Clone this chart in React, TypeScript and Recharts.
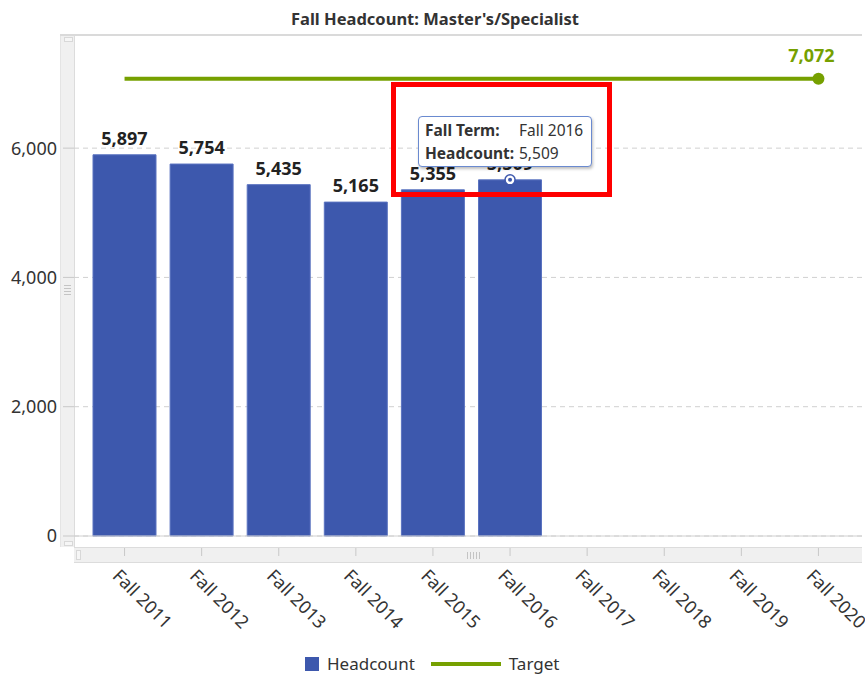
import React from 'react'
import { ComposedChart, Bar, Line, XAxis, YAxis, CartesianGrid, LabelList, ReferenceDot } from 'recharts'

const terms = ['Fall 2011', 'Fall 2012', 'Fall 2013', 'Fall 2014', 'Fall 2015', 'Fall 2016', 'Fall 2017', 'Fall 2018', 'Fall 2019', 'Fall 2020']
const headcount: (number | null)[] = [5897, 5754, 5435, 5165, 5355, 5509, null, null, null, null]
const target = [7072, 7072, 7072, 7072, 7072, 7072, 7072, 7072, 7072, 7072]
const yTicks = [0, 2000, 4000, 6000]

const FONT = '"Noto Sans", "Open Sans", sans-serif'
const BLUE = '#3d58ad'
const GREEN = '#76a000'

const data = terms.map((term, i) => ({ term, headcount: headcount[i], target: target[i] }))
const last = terms.length - 1

const fmt = (v: number | null | undefined) => (v == null ? '' : v.toLocaleString('en-US'))

function XTick(props: any) {
    const { x, y, payload } = props
    return (
        <g>
            <line x1={x} x2={x} y1={y + 12} y2={y + 20} stroke="#c8c8c8" />
            <text
                x={x - 13}
                y={y + 41}
                transform={`rotate(45, ${x - 13}, ${y + 41})`}
                textAnchor="start"
                fontSize={18}
                fontFamily={FONT}
                fill="#333"
            >
                {payload.value}
            </text>
        </g>
    )
}

// little grip marks drawn on the scroll strips
const grip = (n: number, vertical: boolean) =>
    Array.from({ length: n }, (_, i) => (
        <span
            key={i}
            style={{
                display: 'inline-block',
                width: vertical ? 7 : 1,
                height: vertical ? 1 : 7,
                background: '#c4c4c4',
                margin: vertical ? '1px 0' : '0 1px',
            }}
        />
    ))

export default function App() {
    return (
        <div style={{ position: 'absolute', left: 0, top: 0, width: 865, height: 675, background: '#fff', fontFamily: FONT }}>
            {/* title */}
            <div style={{ position: 'absolute', left: 0, width: 870, top: 7, textAlign: 'center', fontSize: 16.5, fontWeight: 'bold', color: '#333' }}>
                Fall Headcount: Master's/Specialist
            </div>

            {/* scroll strips */}
            <div style={{ position: 'absolute', left: 60, top: 35, width: 13, height: 512, background: '#f0f0f0', borderRight: '1px solid #dcdcdc', borderLeft: '1px solid #e4e4e4' }}>
                <div style={{ position: 'absolute', left: 3, top: 2, width: 7, height: 3, border: '1px solid #d8d8d8', background: '#f6f6f6' }} />
                <div style={{ position: 'absolute', left: 3, top: 249, display: 'flex', flexDirection: 'column' }}>{grip(4, true)}</div>
                <div style={{ position: 'absolute', left: 3, bottom: 1, width: 7, height: 3, border: '1px solid #d8d8d8', background: '#f6f6f6' }} />
            </div>
            <div style={{ position: 'absolute', left: 74, top: 547, width: 788, height: 14, background: '#f0f0f0', borderTop: '1px solid #dcdcdc', borderBottom: '1px solid #dcdcdc' }}>
                <div style={{ position: 'absolute', left: 2, top: 2, width: 3, height: 8, border: '1px solid #d8d8d8', background: '#f6f6f6' }} />
                <div style={{ position: 'absolute', left: 392, top: 4, display: 'flex' }}>{grip(5, false)}</div>
            </div>

            <div style={{ position: 'absolute', left: 0, top: 0 }}>
                <ComposedChart width={865} height={675} data={data} margin={{ top: 35, right: 3, bottom: 0, left: 0 }}>
                    <CartesianGrid vertical={false} stroke="#d0d0d0" strokeDasharray="5 4" />
                    <XAxis
                        dataKey="term"
                        height={139}
                        padding={{ left: 12, right: 5 }}
                        axisLine={{ stroke: '#d0d0d0' }}
                        tickLine={false}
                        tickSize={0}
                        tickMargin={0}
                        interval={0}
                        tick={<XTick />}
                    />
                    <YAxis
                        width={74}
                        domain={[0, 7750]}
                        ticks={yTicks}
                        axisLine={false}
                        tickLine={{ stroke: '#c8c8c8' }}
                        tickSize={11}
                        tickMargin={6}
                        tickFormatter={v => fmt(v)}
                        tick={{ fontSize: 18, fill: '#333', fontFamily: FONT }}
                    />
                    <Bar dataKey="headcount" fill={BLUE} stroke="#5a73c0" strokeWidth={1} barSize={63} isAnimationActive={false}>
                        <LabelList
                            dataKey="headcount"
                            position="top"
                            offset={10}
                            formatter={(v: any) => fmt(v)}
                            style={{ fontSize: 18, fontWeight: 'bold', fill: '#222', fontFamily: FONT }}
                        />
                    </Bar>
                    <Line
                        dataKey="target"
                        stroke={GREEN}
                        strokeWidth={4}
                        isAnimationActive={false}
                        dot={(p: any) =>
                            p.index === last ? (
                                <circle key={p.index} cx={p.cx} cy={p.cy} r={6} fill={GREEN} />
                            ) : (
                                <g key={p.index} />
                            )
                        }
                        activeDot={false}
                        label={(p: any) =>
                            p.index === last ? (
                                <text
                                    key={p.index}
                                    x={p.x - 7}
                                    y={p.y - 17}
                                    textAnchor="middle"
                                    fontSize={18}
                                    fontWeight="bold"
                                    fill={GREEN}
                                    fontFamily={FONT}
                                >
                                    {fmt(p.value)}
                                </text>
                            ) : (
                                <g key={p.index} />
                            )
                        }
                    />
                    <ReferenceDot x={terms[5]} y={headcount[5] as number} r={5} fill="#fff" stroke={BLUE} strokeWidth={1.5} />
                    <ReferenceDot x={terms[5]} y={headcount[5] as number} r={2} fill={BLUE} stroke="none" />
                </ComposedChart>
            </div>

            {/* top frame line */}
            <div style={{ position: 'absolute', left: 60, top: 34, width: 802, height: 2, background: '#dadada' }} />

            {/* hover tooltip */}
            <div
                style={{
                    position: 'absolute',
                    left: 418,
                    top: 116,
                    width: 174,
                    height: 51,
                    background: '#fff',
                    border: '1px solid #6a8ad0',
                    borderRadius: 4,
                    boxShadow: '1px 2px 3px rgba(0,0,0,0.25)',
                    fontSize: 15.5,
                    color: '#333',
                    boxSizing: 'border-box',
                    padding: '2px 6px',
                    lineHeight: '23px',
                }}
            >
                <div style={{ display: 'flex' }}>
                    <span style={{ fontWeight: 'bold', width: 94 }}>Fall Term:</span>
                    <span>{terms[5]}</span>
                </div>
                <div style={{ display: 'flex' }}>
                    <span style={{ fontWeight: 'bold', width: 94 }}>Headcount:</span>
                    <span>{fmt(headcount[5])}</span>
                </div>
            </div>
            <div style={{ position: 'absolute', left: 391, top: 82, width: 221, height: 115, border: '5px solid #f00', boxSizing: 'border-box' }} />

            {/* legend */}
            <div style={{ position: 'absolute', left: 305, top: 654, height: 20, lineHeight: '20px', display: 'flex', alignItems: 'center', fontSize: 17, color: '#333' }}>
                <span style={{ width: 14, height: 14, background: BLUE, display: 'inline-block', marginRight: 8 }} />
                <span>Headcount</span>
                <span style={{ width: 70, height: 4, background: GREEN, display: 'inline-block', margin: '0 8px 0 16px' }} />
                <span>Target</span>
            </div>
        </div>
    )
}
